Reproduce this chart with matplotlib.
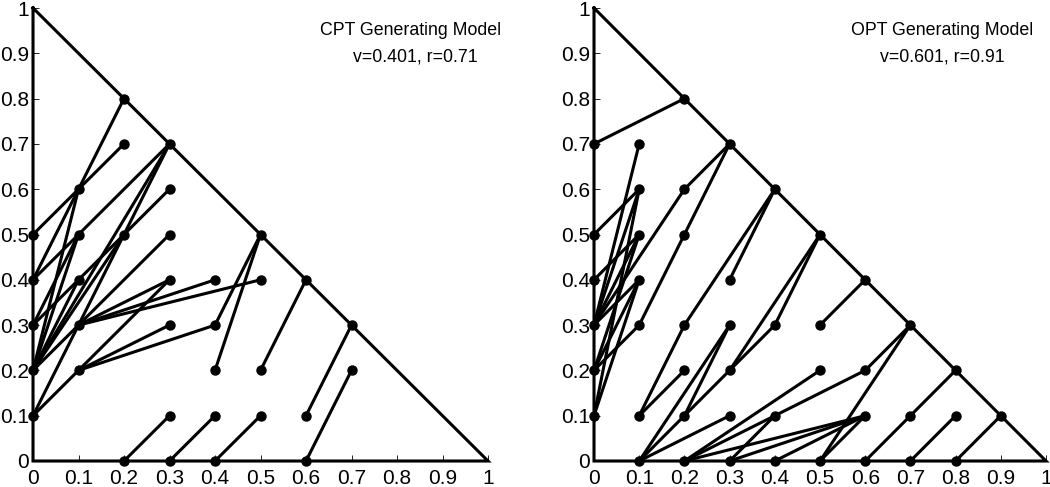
import matplotlib
matplotlib.use("Agg")
import matplotlib.pyplot as plt
import numpy as np

plt.rcParams['font.family'] = ['Liberation Sans', 'DejaVu Sans']

# ---------------- data ----------------
ticks = [0, 0.1, 0.2, 0.3, 0.4, 0.5, 0.6, 0.7, 0.8, 0.9, 1]
tick_labels = ['0', '0.1', '0.2', '0.3', '0.4', '0.5', '0.6', '0.7', '0.8', '0.9', '1']

# CPT generating model: segments (x0, y0) -> (x1, y1)
cpt_x0 = [0.2, 0.1, 0.0, 0.1, 0.0, 0.1, 0.3, 0.2, 0.3, 0.1, 0.2, 0.1, 0.0, 0.0, 0.1, 0.0, 0.0, 0.0,
          0.0, 0.1, 0.1, 0.1, 0.1, 0.1, 0.1, 0.0, 0.0, 0.4, 0.4, 0.5, 0.6, 0.6, 0.2, 0.3, 0.4]
cpt_y0 = [0.8, 0.6, 0.5, 0.6, 0.4, 0.5, 0.7, 0.5, 0.7, 0.4, 0.5, 0.3, 0.2, 0.2, 0.6, 0.3, 0.2, 0.3,
          0.2, 0.3, 0.3, 0.3, 0.2, 0.2, 0.2, 0.1, 0.1, 0.3, 0.2, 0.2, 0.1, 0.0, 0.0, 0.0, 0.0]
cpt_x1 = [0.1, 0.0, 0.1, 0.2, 0.1, 0.3, 0.2, 0.1, 0.0, 0.2, 0.3, 0.3, 0.1, 0.2, 0.0, 0.1, 0.1, 0.1,
          0.1, 0.3, 0.4, 0.5, 0.3, 0.3, 0.4, 0.1, 0.1, 0.5, 0.5, 0.6, 0.7, 0.7, 0.3, 0.4, 0.5]
cpt_y1 = [0.6, 0.4, 0.6, 0.7, 0.5, 0.7, 0.5, 0.3, 0.2, 0.5, 0.6, 0.5, 0.3, 0.5, 0.2, 0.5, 0.5, 0.4,
          0.4, 0.4, 0.4, 0.4, 0.4, 0.3, 0.3, 0.2, 0.3, 0.5, 0.5, 0.4, 0.3, 0.2, 0.1, 0.1, 0.1]

# OPT generating model: segments (x0, y0) -> (x1, y1)
opt_x0 = [0.0, 0.1, 0.0, 0.1, 0.1, 0.3, 0.2, 0.3, 0.2, 0.0, 0.1, 0.1, 0.0, 0.1, 0.1, 0.0,
          0.1, 0.2, 0.1, 0.4, 0.1, 0.2, 0.1, 0.2, 0.3, 0.4, 0.5, 0.2, 0.2, 0.6, 0.5, 0.5,
          0.6, 0.6, 0.4, 0.1, 0.5, 0.6, 0.7, 0.7, 0.8, 0.4]
opt_y0 = [0.7, 0.7, 0.5, 0.6, 0.6, 0.7, 0.6, 0.7, 0.5, 0.4, 0.5, 0.5, 0.3, 0.4, 0.4, 0.2,
          0.1, 0.3, 0.1, 0.6, 0.0, 0.1, 0.0, 0.1, 0.2, 0.3, 0.5, 0.0, 0.0, 0.2, 0.0, 0.0,
          0.1, 0.1, 0.1, 0.0, 0.3, 0.0, 0.1, 0.0, 0.0, 0.0]
opt_x1 = [0.2, 0.0, 0.1, 0.0, 0.0, 0.2, 0.0, 0.2, 0.1, 0.1, 0.0, 0.0, 0.1, 0.0, 0.0, 0.1,
          0.2, 0.4, 0.2, 0.3, 0.2, 0.3, 0.3, 0.3, 0.4, 0.5, 0.3, 0.5, 0.6, 0.7, 0.7, 0.6,
          0.3, 0.2, 0.3, 0.3, 0.6, 0.7, 0.8, 0.8, 0.9, 0.6]
opt_y1 = [0.8, 0.3, 0.6, 0.1, 0.3, 0.6, 0.3, 0.5, 0.3, 0.5, 0.2, 0.3, 0.4, 0.2, 0.1, 0.3,
          0.3, 0.6, 0.2, 0.4, 0.1, 0.2, 0.3, 0.3, 0.3, 0.5, 0.2, 0.2, 0.2, 0.3, 0.3, 0.1,
          0.0, 0.0, 0.0, 0.1, 0.4, 0.1, 0.2, 0.1, 0.1, 0.1]

panel_titles = ["CPT Generating Model", "OPT Generating Model"]
panel_params = ["v=0.401, r=0.71", "v=0.601, r=0.91"]

# ---------------- drawing ----------------
fig = plt.figure(figsize=(10.5, 4.87), dpi=100)
W, H = 1050, 487
axL = fig.add_axes([33 / W, 26 / H, 455 / W, 453 / H])
axR = fig.add_axes([594 / W, 26 / H, 452 / W, 453 / H])

LW = 2.2
MS = 6.5


def draw_panel(ax, x0, y0, x1, y1, title, params, tx, tx2):
    ax.set_xlim(0, 1)
    ax.set_ylim(0, 1)
    for s in ['top', 'right']:
        ax.spines[s].set_visible(False)
    for s in ['left', 'bottom']:
        ax.spines[s].set_linewidth(0.8)
    ax.set_xticks(ticks)
    ax.set_yticks(ticks)
    ax.set_xticklabels(tick_labels)
    ax.set_yticklabels(tick_labels)
    ax.tick_params(direction='in', length=4, width=0.6, labelsize=15)
    ax.tick_params(axis='x', pad=6)
    ax.tick_params(axis='y', pad=3)
    # triangle
    ax.plot([0, 0, 1, 0], [1, 0, 0, 1], color='black', lw=LW, clip_on=False,
            solid_joinstyle='miter', zorder=3)
    pts = set()
    for a, b, c, d in zip(x0, y0, x1, y1):
        ax.plot([a, c], [b, d], color='black', lw=LW, clip_on=False, zorder=3,
                solid_capstyle='round')
        pts.add((a, b))
        pts.add((c, d))
    px = [p[0] for p in pts]
    py = [p[1] for p in pts]
    ax.plot(px, py, 'o', color='black', ms=MS, clip_on=False, zorder=4)
    ax.text(tx, 0.951, title, ha='center', va='center', fontsize=12.8)
    ax.text(tx2, 0.892, params, ha='center', va='center', fontsize=12.8)


draw_panel(axL, cpt_x0, cpt_y0, cpt_x1, cpt_y1, panel_titles[0], panel_params[0], 0.83, 0.84)
draw_panel(axR, opt_x0, opt_y0, opt_x1, opt_y1, panel_titles[1], panel_params[1], 0.77, 0.77)

fig.savefig("out.png", dpi=100)
